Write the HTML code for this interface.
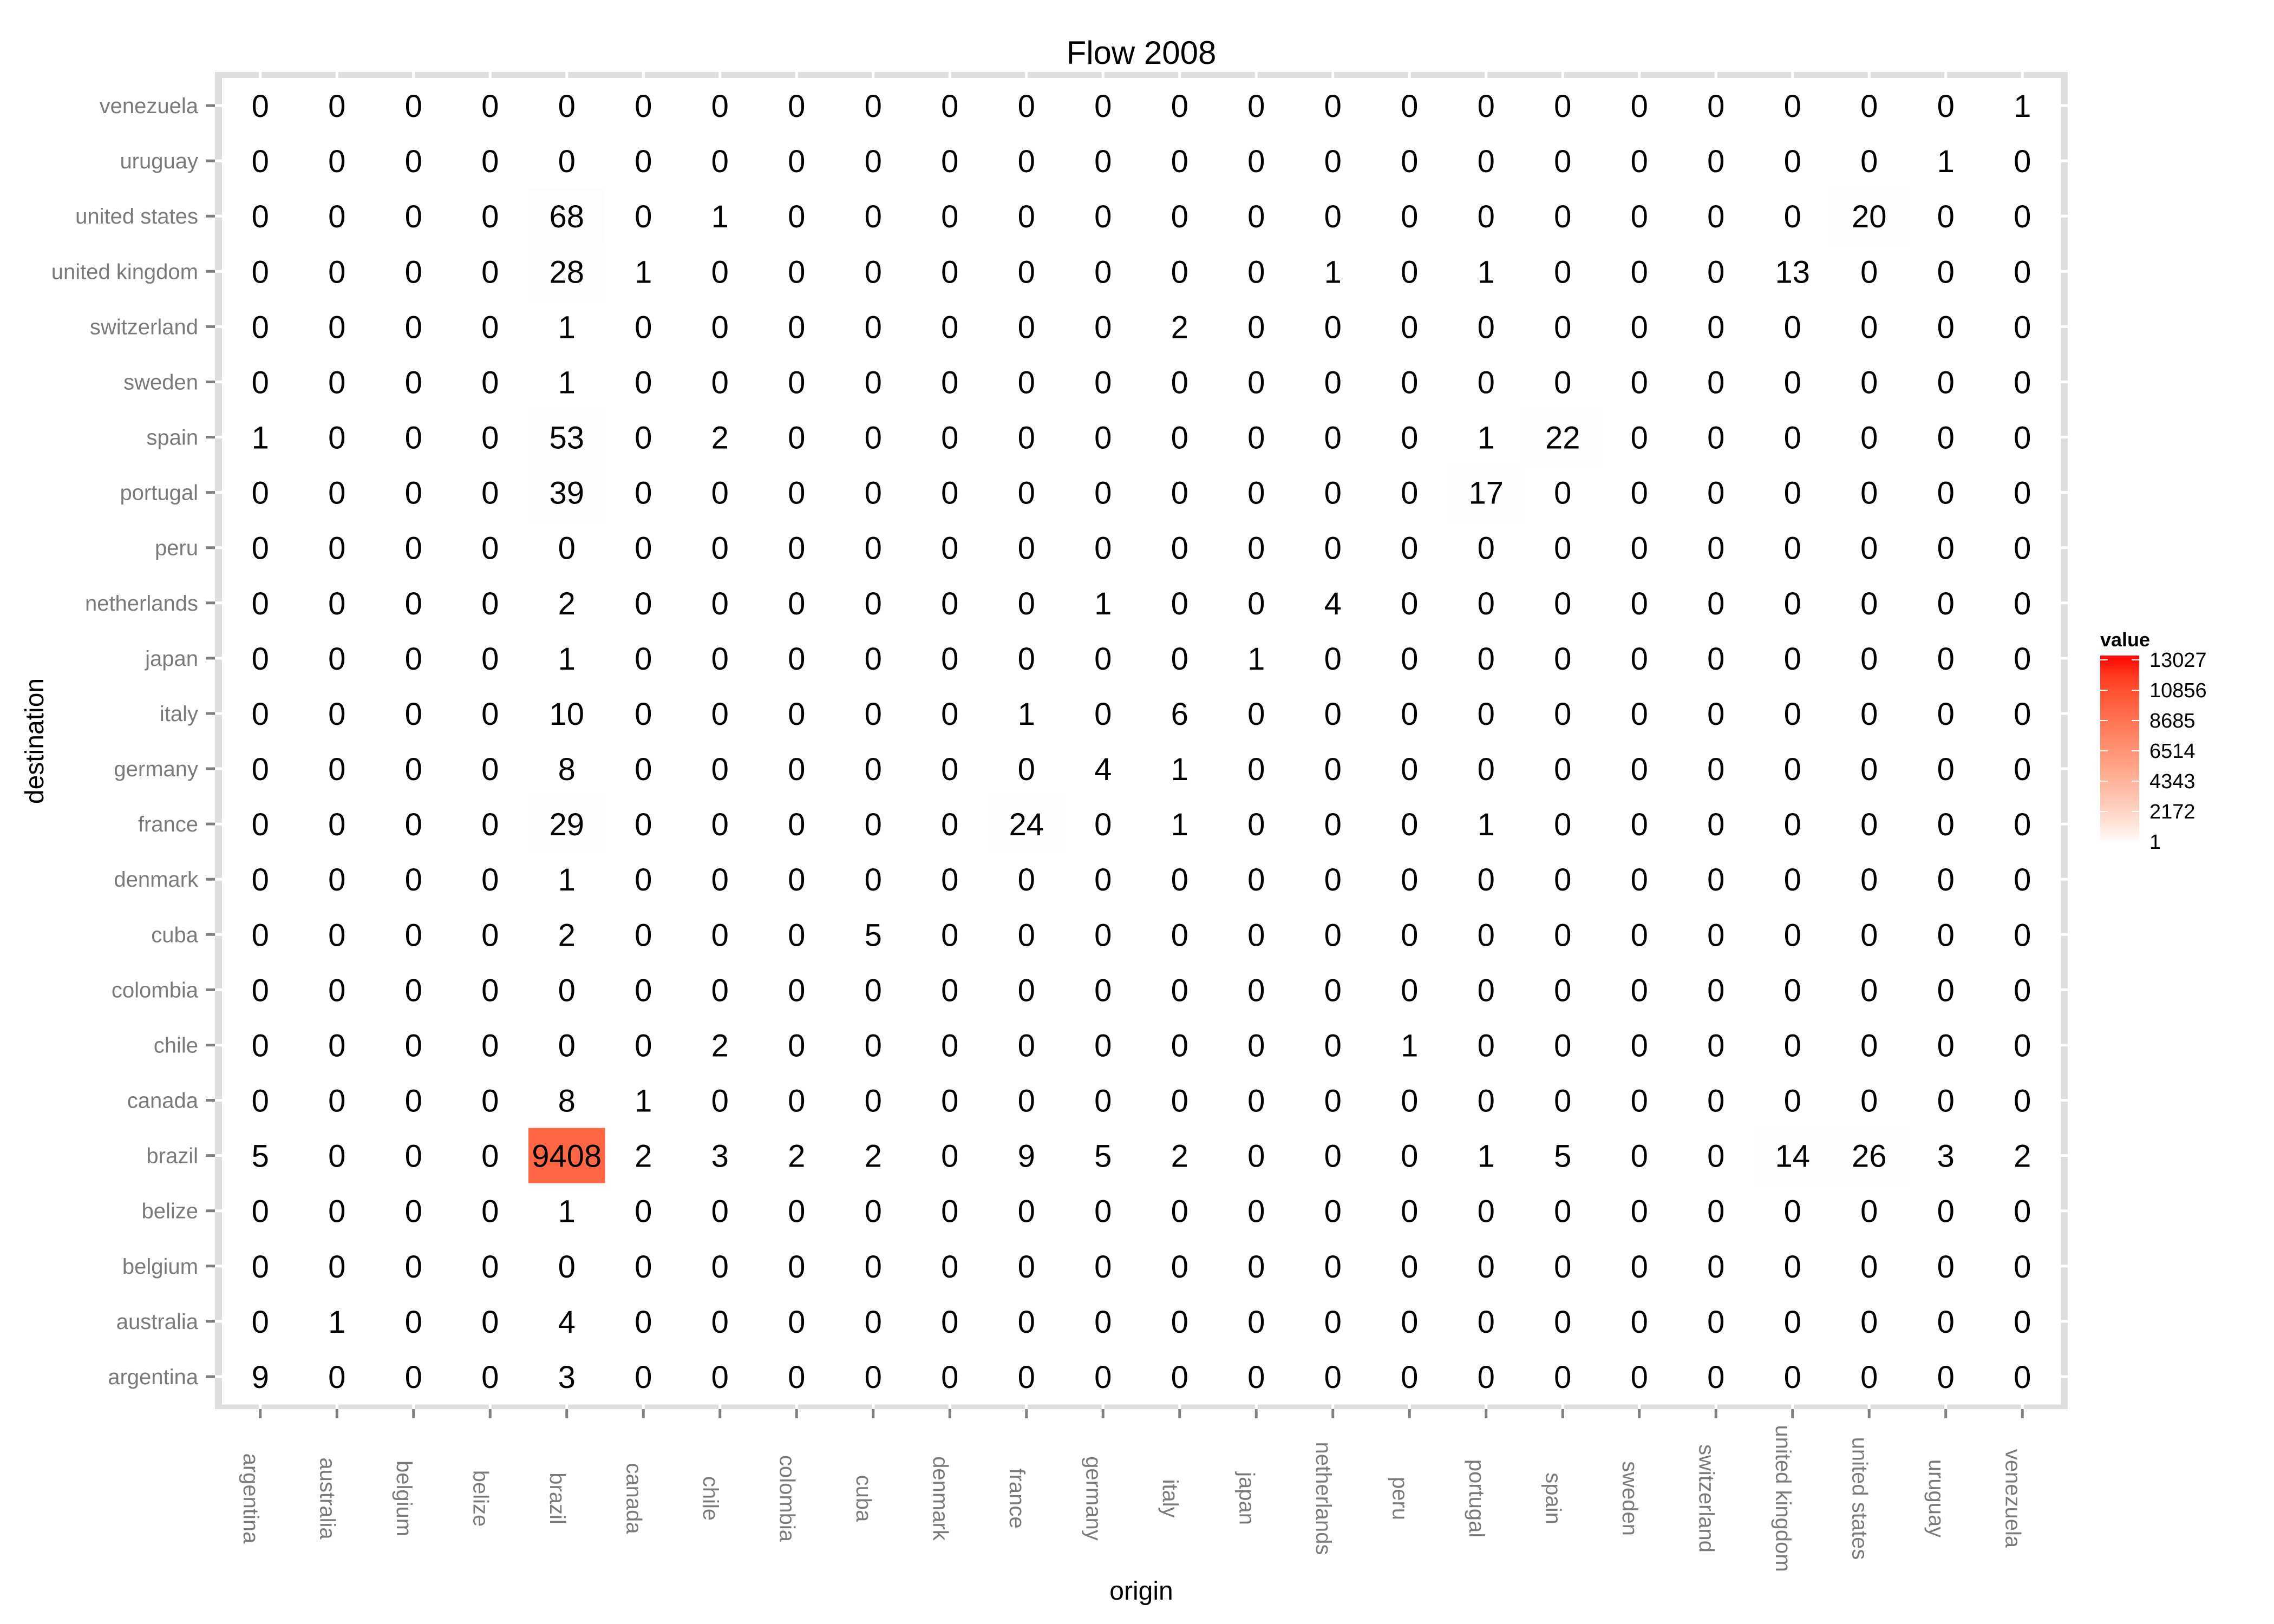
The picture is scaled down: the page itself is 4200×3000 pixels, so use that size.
<!DOCTYPE html>
<html><head><meta charset="utf-8"><style>
html,body{margin:0;padding:0;background:#fff;}
svg{display:block;font-family:"Liberation Sans",Arial,sans-serif;}
</style></head><body>
<svg id="chart" width="4200" height="3000" viewBox="0 0 4200 3000" xmlns="http://www.w3.org/2000/svg">
<defs>
<linearGradient id="lg" x1="0" y1="1" x2="0" y2="0">
</linearGradient>
</defs>
<text x="2108" y="118" font-size="60" text-anchor="middle" fill="#000">Flow 2008</text>
<rect x="397" y="133" width="3422" height="2470" fill="#dedede"/>
<g id="grid"></g>
<g id="tiles"></g>
<g id="labels"></g>
<g id="yaxis"></g>
<g id="xaxis"></g>
<text x="2108" y="2955" font-size="48" text-anchor="middle" fill="#000">origin</text>
<text transform="translate(80,1369) rotate(-90)" font-size="48" text-anchor="middle" fill="#000">destination</text>
<g id="legend">
<text x="3879" y="1194" font-size="36" font-weight="bold" fill="#000">value</text>
<rect x="3879" y="1211" width="72" height="348" fill="url(#lg)"/>
</g>
</svg>
<script>
const origins = ["argentina","australia","belgium","belize","brazil","canada","chile","colombia","cuba","denmark","france","germany","italy","japan","netherlands","peru","portugal","spain","sweden","switzerland","united kingdom","united states","uruguay","venezuela"];
const destinations = ["venezuela","uruguay","united states","united kingdom","switzerland","sweden","spain","portugal","peru","netherlands","japan","italy","germany","france","denmark","cuba","colombia","chile","canada","brazil","belize","belgium","australia","argentina"];
const row_venezuela = [0,0,0,0,0,0,0,0,0,0,0,0,0,0,0,0,0,0,0,0,0,0,0,1];
const row_uruguay = [0,0,0,0,0,0,0,0,0,0,0,0,0,0,0,0,0,0,0,0,0,0,1,0];
const row_united_states = [0,0,0,0,68,0,1,0,0,0,0,0,0,0,0,0,0,0,0,0,0,20,0,0];
const row_united_kingdom = [0,0,0,0,28,1,0,0,0,0,0,0,0,0,1,0,1,0,0,0,13,0,0,0];
const row_switzerland = [0,0,0,0,1,0,0,0,0,0,0,0,2,0,0,0,0,0,0,0,0,0,0,0];
const row_sweden = [0,0,0,0,1,0,0,0,0,0,0,0,0,0,0,0,0,0,0,0,0,0,0,0];
const row_spain = [1,0,0,0,53,0,2,0,0,0,0,0,0,0,0,0,1,22,0,0,0,0,0,0];
const row_portugal = [0,0,0,0,39,0,0,0,0,0,0,0,0,0,0,0,17,0,0,0,0,0,0,0];
const row_peru = [0,0,0,0,0,0,0,0,0,0,0,0,0,0,0,0,0,0,0,0,0,0,0,0];
const row_netherlands = [0,0,0,0,2,0,0,0,0,0,0,1,0,0,4,0,0,0,0,0,0,0,0,0];
const row_japan = [0,0,0,0,1,0,0,0,0,0,0,0,0,1,0,0,0,0,0,0,0,0,0,0];
const row_italy = [0,0,0,0,10,0,0,0,0,0,1,0,6,0,0,0,0,0,0,0,0,0,0,0];
const row_germany = [0,0,0,0,8,0,0,0,0,0,0,4,1,0,0,0,0,0,0,0,0,0,0,0];
const row_france = [0,0,0,0,29,0,0,0,0,0,24,0,1,0,0,0,1,0,0,0,0,0,0,0];
const row_denmark = [0,0,0,0,1,0,0,0,0,0,0,0,0,0,0,0,0,0,0,0,0,0,0,0];
const row_cuba = [0,0,0,0,2,0,0,0,5,0,0,0,0,0,0,0,0,0,0,0,0,0,0,0];
const row_colombia = [0,0,0,0,0,0,0,0,0,0,0,0,0,0,0,0,0,0,0,0,0,0,0,0];
const row_chile = [0,0,0,0,0,0,2,0,0,0,0,0,0,0,0,1,0,0,0,0,0,0,0,0];
const row_canada = [0,0,0,0,8,1,0,0,0,0,0,0,0,0,0,0,0,0,0,0,0,0,0,0];
const row_brazil = [5,0,0,0,9408,2,3,2,2,0,9,5,2,0,0,0,1,5,0,0,14,26,3,2];
const row_belize = [0,0,0,0,1,0,0,0,0,0,0,0,0,0,0,0,0,0,0,0,0,0,0,0];
const row_belgium = [0,0,0,0,0,0,0,0,0,0,0,0,0,0,0,0,0,0,0,0,0,0,0,0];
const row_australia = [0,1,0,0,4,0,0,0,0,0,0,0,0,0,0,0,0,0,0,0,0,0,0,0];
const row_argentina = [9,0,0,0,3,0,0,0,0,0,0,0,0,0,0,0,0,0,0,0,0,0,0,0];
const values = [row_venezuela,row_uruguay,row_united_states,row_united_kingdom,row_switzerland,row_sweden,row_spain,row_portugal,row_peru,row_netherlands,row_japan,row_italy,row_germany,row_france,row_denmark,row_cuba,row_colombia,row_chile,row_canada,row_brazil,row_belize,row_belgium,row_australia,row_argentina];
const legendTicks = [1,2172,4343,6514,8685,10856,13027];
const colorMin = 1, colorMax = 13027;

const NS = "http://www.w3.org/2000/svg";
const X0 = 410, X1 = 3806, Y0 = 144, Y1 = 2594;
const cw = (X1 - X0) / origins.length, ch = (Y1 - Y0) / destinations.length;
function xPos(i){ return X0 + cw * (i + 0.5); }
function yPos(j){ return Y0 + ch * (j + 0.5); }
function mk(tag, attrs, parent){ const e = document.createElementNS(NS, tag); for (const k in attrs) e.setAttribute(k, attrs[k]); parent.appendChild(e); return e; }

function srgb2lin(c){ c/=255; return c<=0.04045? c/12.92 : Math.pow((c+0.055)/1.055,2.4); }
function lin2srgb(c){ c = c<=0.0031308? 12.92*c : 1.055*Math.pow(c,1/2.4)-0.055; return Math.max(0,Math.min(255,Math.round(c*255))); }
function toLab(r,g,b){ r=srgb2lin(r); g=srgb2lin(g); b=srgb2lin(b);
  let X=(0.4124*r+0.3576*g+0.1805*b)/0.95047, Y=(0.2126*r+0.7152*g+0.0722*b), Z=(0.0193*r+0.1192*g+0.9505*b)/1.08883;
  const f=t=>t>0.008856?Math.cbrt(t):7.787*t+16/116; X=f(X);Y=f(Y);Z=f(Z);
  return [116*Y-16, 500*(X-Y), 200*(Y-Z)]; }
function fromLab(L,a,bb){ let Y=(L+16)/116, X=a/500+Y, Z=Y-bb/200;
  const fi=t=>t*t*t>0.008856?t*t*t:(t-16/116)/7.787; X=fi(X)*0.95047; Y=fi(Y); Z=fi(Z)*1.08883;
  const r=3.2406*X-1.5372*Y-0.4986*Z, g=-0.9689*X+1.8758*Y+0.0415*Z, b=0.0557*X-0.2040*Y+1.0570*Z;
  return `rgb(${lin2srgb(r)},${lin2srgb(g)},${lin2srgb(b)})`; }
const LW = toLab(255,255,255), LR = toLab(255,0,0);
function color(v){ let t=(v-colorMin)/(colorMax-colorMin); t=Math.max(0,Math.min(1,t)); t=Math.pow(t,0.85);
  return fromLab(LW[0]+(LR[0]-LW[0])*t, LW[1]+(LR[1]-LW[1])*t, LW[2]+(LR[2]-LW[2])*t); }

const grid = document.getElementById('grid');
origins.forEach((o,i)=>{ const l = mk('line',{x1:xPos(i),x2:xPos(i),y1:133,y2:2603,stroke:'#fff','stroke-width':5},grid);
  
   });
destinations.forEach((d,j)=>{ const l = mk('line',{x1:397,x2:3819,y1:yPos(j),y2:yPos(j),stroke:'#fff','stroke-width':5},grid);
  
   });

const tiles = document.getElementById('tiles'), labels = document.getElementById('labels');
values.forEach((row,j)=>{ row.forEach((v,i)=>{
  const r = mk('rect',{x:X0+cw*i,y:Y0+ch*j,width:cw+0.5,height:ch+0.5,fill:color(v)},tiles);
  
  
  const t = mk('text',{x:xPos(i),y:yPos(j)+21,'font-size':58,'text-anchor':'middle',fill:'#000'},labels);
  t.textContent = v;
  
  
}); });

const yaxis = document.getElementById('yaxis');
destinations.forEach((d,j)=>{
  const tk = mk('line',{x1:380,x2:397,y1:yPos(j),y2:yPos(j),stroke:'#7f7f7f','stroke-width':5},yaxis);
  
  
  const t = mk('text',{x:366,y:yPos(j)+14,'font-size':40,'text-anchor':'end',fill:'#7a7a7a'},yaxis);
  t.textContent = d;
  
  
});
const xaxis = document.getElementById('xaxis');
origins.forEach((o,i)=>{
  const tk = mk('line',{x1:xPos(i),x2:xPos(i),y1:2603,y2:2620,stroke:'#7f7f7f','stroke-width':5},xaxis);
  
  
  const t = mk('text',{transform:`translate(${xPos(i)-31},2768) rotate(90)`,'font-size':40,'text-anchor':'middle',fill:'#7a7a7a'},xaxis);
  t.textContent = o;
  
  
});

const lg = document.getElementById('lg');
for (let k=0;k<=10;k++){ mk('stop',{offset:k/10,'stop-color':color(colorMin+(colorMax-colorMin)*k/10)},lg); }
const legend = document.getElementById('legend');
const LB = 1559, LT = 1211;
function ly(v){ return LB - 4 - (v-colorMin)/(colorMax-colorMin)*(LB-LT-12); }
legendTicks.forEach(v=>{
  const y = ly(v);
  if (v !== colorMin){
    const a = mk('line',{x1:3879,x2:3893,y1:y,y2:y,stroke:'#fff','stroke-width':2},legend);
    
    
    const b = mk('line',{x1:3937,x2:3951,y1:y,y2:y,stroke:'#fff','stroke-width':2},legend);
    
    
  }
  const t = mk('text',{x:3970,y:y+13,'font-size':38,fill:'#000'},legend);
  t.textContent = v;
  
  
});
</script>
</body></html>
